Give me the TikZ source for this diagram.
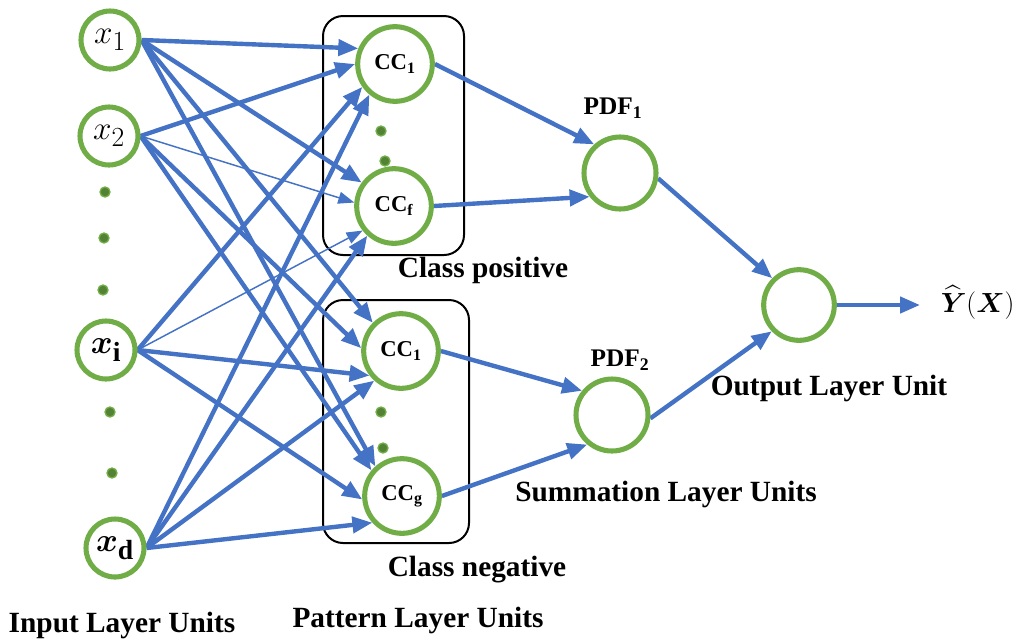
\documentclass[tikz,border=0pt]{standalone}
\usepackage{amsmath}
\usepackage{amssymb}
\usepackage{fontspec}
\setmainfont{Liberation Serif}
\usepackage{tikz}
\usetikzlibrary{arrows.meta}
\pgfdeclarelayer{background}
\pgfdeclarelayer{foreground}
\pgfsetlayers{background,main,foreground}
\definecolor{linkblue}{HTML}{4472C4}
\definecolor{unitgreen}{HTML}{70AD47}
\definecolor{dotgreen}{HTML}{548235}
\tikzset{
  unit/.style={circle,draw=unitgreen,line width=3.8pt,fill=white,inner sep=0pt},
  inunit/.style={unit,minimum size=43.5pt,font=\fontsize{24.88}{28}\selectfont},
  ccunit/.style={unit,minimum size=56pt,font=\bfseries\fontsize{17}{20}\selectfont},
  sumunit/.style={unit,minimum size=54pt},
  link/.style={draw=linkblue,line width=3.3pt,-{Triangle[length=15pt,width=12pt]}},
  thinlink/.style={draw=linkblue,line width=1.1pt,-{Triangle[length=12pt,width=9pt]}},
  dotmark/.style={circle,fill=dotgreen,draw=unitgreen,line width=1pt,inner sep=0pt,minimum size=7.5pt},
  classbox/.style={draw,line width=1.5pt,rounded corners=15pt},
  layerlabel/.style={font=\bfseries\fontsize{22}{26}\selectfont},
  pdflabel/.style={font=\bfseries\fontsize{19}{22}\selectfont}
}

\begin{document}
\begin{tikzpicture}[x=0.75pt,y=-0.75pt]
\useasboundingbox (0,0) rectangle (1019,640);

% input layer
\begin{pgfonlayer}{foreground}
\node[inunit] (x1) at (110,40) {$x_1$};
\node[inunit] (x2) at (109,136) {$x_2$};
\node[inunit] (xi) at (106,350) {$\boldsymbol{x}_{\mathbf{i}}$};
\node[inunit] (xd) at (115,548) {$\boldsymbol{x}_{\mathbf{d}}$};
\foreach \n/\p in {a/{105,192},b/{104,238},c/{103,290},d/{110,412},e/{112,473}}
  \node[dotmark] (din\n) at (\p) {};

% pattern layer
\node[ccunit] (cc1p) at (395,64) {CC\textsubscript{1}};
\node[ccunit] (ccf) at (394,206) {CC\textsubscript{f}};
\node[ccunit] (cc1n) at (401,351) {CC\textsubscript{1}};
\node[ccunit] (ccg) at (402,496) {CC\textsubscript{g}};
\foreach \n/\p in {a/{381,131},b/{385,161},c/{381,412},d/{383,448}}
  \node[dotmark] (dcc\n) at (\p) {};

% summation and output layer
\node[sumunit] (pdf1) at (620,173) {};
\node[sumunit] (pdf2) at (612,415) {};
\node[sumunit,minimum size=53pt] (outu) at (799,305) {};
\end{pgfonlayer}

\begin{pgfonlayer}{background}
\draw[classbox] (323,16) rectangle (464,255);
\draw[classbox] (323,300) rectangle (469,543);
\end{pgfonlayer}

% input -> pattern
\foreach \s/\t/\a in {x1/cc1p/157,x1/ccf/144,x1/cc1n/135,x1/ccg/132,
                      x2/cc1p/180,x2/cc1n/176,x2/ccg/140,
                      xi/cc1p/215,xi/cc1n/218,xi/ccg/185,
                      xd/cc1p/230,xd/ccf/228,xd/cc1n/228,xd/ccg/222}
  \draw[link] (\s.east) -- (\t.\a);
\draw[thinlink] (x2.east) -- (ccf.175);
\draw[thinlink] (xi.east) -- (ccf.218);

% pattern -> summation -> output
\draw[link] (cc1p.east) -- (pdf1.132);
\draw[link] (ccf.east) -- (pdf1.218);
\draw[link] (cc1n.east) -- (pdf2.141);
\draw[link] (ccg.east) -- (pdf2.230);
\draw[link] (pdf1.-8) -- (outu.135);
\draw[link] (pdf2.-5) -- (outu.224);
\coordinate (outend) at (920,305);
\draw[link] (outu.east) -- (outend);

% labels
\node[pdflabel] (lpdf1) at (613,108) {PDF\textsubscript{1}};
\node[pdflabel] (lpdf2) at (620,360) {PDF$_{\mathbf{2}}$};
\node[font=\fontsize{20.74}{24}\selectfont,anchor=east,inner sep=1pt] (yhat) at (1016,302) {$\widehat{\boldsymbol{Y}}(\boldsymbol{X})$};
\node[layerlabel] (lpos) at (483,270) {Class positive};
\node[layerlabel] (lneg) at (477,570) {Class negative};
\node[layerlabel] (lsum) at (666,494) {Summation Layer Units};
\node[layerlabel] (lout) at (829,388) {Output Layer Unit};
\node[layerlabel] (lin) at (122,625) {Input Layer Units};
\node[layerlabel] (lpat) at (418,620) {Pattern Layer Units};
\end{tikzpicture}
\end{document}
